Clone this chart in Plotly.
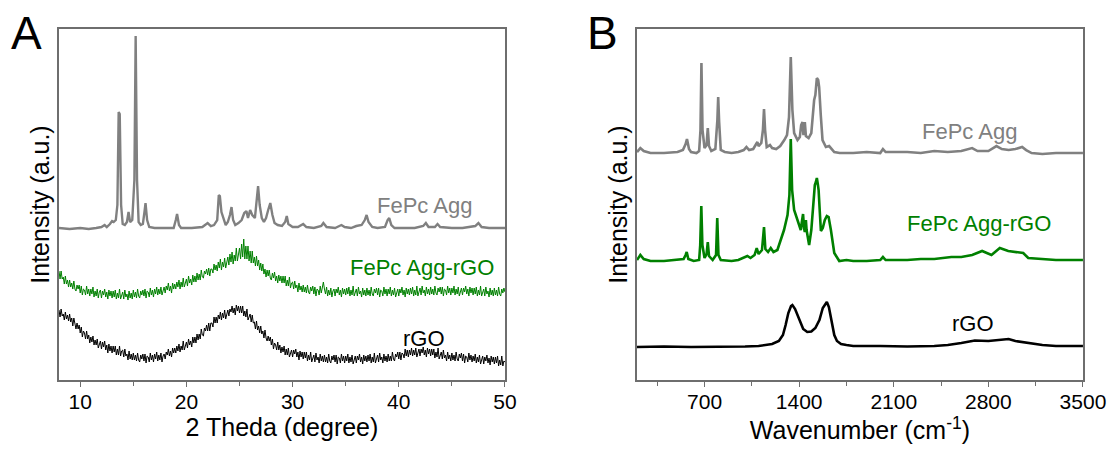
import numpy as np
import plotly.graph_objects as go

# ---------------- Panel A : XRD ----------------
theta_grid = np.round(np.arange(8.0, 50.0001, 0.1), 1)

xrd_agg_rgo = [
    109, 101, 109, 101, 103, 96, 104, 96, 100, 93,
    100, 93, 97, 91, 99, 91, 89, 95, 91, 95,
    87, 94, 85, 91, 90, 85, 94, 86, 91, 84,
    91, 86, 93, 83, 89, 84, 91, 82, 88, 90,
    82, 89, 85, 91, 83, 88, 81, 90, 84, 89,
    82, 89, 83, 90, 81, 87, 82, 91, 81, 86,
    88, 81, 90, 83, 86, 80, 89, 82, 87, 81,
    90, 83, 88, 82, 91, 84, 82, 89, 85, 90,
    84, 91, 82, 89, 88, 83, 92, 85, 90, 83,
    91, 86, 93, 85, 91, 86, 93, 85, 91, 93,
    87, 94, 90, 97, 89, 94, 87, 97, 91, 96,
    91, 98, 93, 100, 91, 98, 93, 102, 93, 98,
    101, 94, 104, 97, 101, 95, 105, 98, 104, 98,
    107, 100, 106, 100, 110, 103, 102, 109, 106, 111,
    105, 112, 104, 111, 111, 107, 116, 110, 115, 109,
    118, 112, 121, 110, 118, 113, 122, 112, 119, 123,
    115, 126, 118, 128, 116, 125, 119, 132, 119, 127,
    132, 121, 136, 123, 141, 121, 134, 121, 134, 119,
    129, 117, 129, 117, 123, 114, 124, 114, 120, 110,
    117, 109, 116, 106, 111, 103, 110, 104, 110, 102,
    100, 107, 102, 108, 99, 104, 97, 105, 99, 104,
    97, 104, 97, 104, 94, 100, 94, 103, 92, 97,
    98, 91, 99, 92, 95, 88, 97, 90, 94, 88,
    95, 88, 93, 87, 95, 88, 86, 93, 89, 94,
    86, 93, 84, 91, 90, 85, 94, 87, 92, 98,
    91, 86, 93, 84, 90, 85, 92, 83, 89, 91,
    84, 91, 87, 93, 85, 90, 83, 92, 86, 91,
    85, 92, 86, 93, 84, 90, 85, 94, 84, 89,
    91, 84, 93, 86, 89, 83, 92, 85, 90, 84,
    92, 85, 90, 84, 93, 86, 84, 91, 87, 92,
    85, 92, 83, 90, 89, 84, 93, 86, 91, 84,
    91, 86, 93, 84, 90, 85, 92, 83, 89, 91,
    84, 91, 87, 93, 85, 90, 83, 92, 86, 91,
    85, 92, 86, 93, 84, 90, 85, 94, 84, 89,
    92, 85, 94, 87, 90, 84, 93, 86, 91, 85,
    93, 86, 91, 85, 94, 87, 85, 92, 88, 93,
    86, 93, 84, 91, 90, 85, 94, 87, 92, 85,
    92, 87, 94, 85, 91, 86, 93, 84, 90, 92,
    85, 92, 88, 94, 86, 91, 84, 93, 87, 92,
    85, 92, 86, 93, 84, 90, 85, 94, 84, 89,
    91, 84, 93, 86, 89, 83, 92, 85, 90, 84,
    92, 85, 90, 84, 93, 86, 84, 91, 87, 92,
    88,
]

xrd_rgo = [
    70, 63, 71, 64, 66, 60, 68, 61, 65, 59,
    66, 58, 62, 54, 62, 54, 51, 57, 51, 55,
    47, 53, 43, 49, 47, 41, 49, 41, 45, 37,
    43, 38, 44, 35, 40, 35, 41, 32, 37, 39,
    31, 38, 33, 39, 30, 35, 27, 36, 29, 34,
    27, 34, 28, 34, 25, 31, 25, 34, 24, 29,
    30, 23, 31, 24, 26, 20, 29, 21, 26, 20,
    27, 20, 25, 19, 27, 20, 18, 25, 21, 26,
    19, 26, 17, 24, 23, 18, 27, 20, 25, 18,
    26, 21, 28, 19, 25, 20, 27, 18, 24, 26,
    21, 28, 25, 31, 24, 29, 23, 32, 27, 32,
    27, 34, 29, 36, 28, 34, 30, 39, 30, 35,
    38, 32, 41, 35, 39, 33, 43, 37, 43, 37,
    46, 40, 46, 41, 51, 45, 44, 52, 49, 55,
    49, 57, 49, 57, 57, 53, 63, 57, 63, 57,
    65, 61, 68, 60, 67, 62, 70, 61, 68, 70,
    64, 71, 68, 74, 67, 72, 65, 75, 69, 74,
    67, 74, 67, 74, 64, 69, 63, 71, 60, 64,
    66, 58, 65, 57, 58, 51, 59, 50, 54, 47,
    54, 46, 49, 42, 50, 42, 39, 44, 39, 43,
    35, 41, 31, 37, 35, 30, 38, 30, 35, 27,
    33, 28, 34, 25, 31, 25, 32, 23, 28, 30,
    23, 30, 26, 31, 23, 28, 20, 29, 23, 28,
    21, 28, 22, 28, 19, 25, 20, 28, 18, 23,
    25, 18, 27, 20, 23, 17, 26, 19, 24, 18,
    25, 18, 23, 17, 26, 19, 17, 24, 20, 25,
    18, 25, 16, 23, 22, 17, 26, 19, 24, 17,
    24, 19, 26, 17, 23, 18, 25, 16, 22, 24,
    17, 24, 20, 26, 18, 23, 16, 25, 19, 24,
    18, 25, 19, 26, 17, 23, 18, 27, 17, 22,
    25, 18, 27, 20, 23, 17, 26, 19, 24, 18,
    26, 19, 24, 19, 28, 21, 19, 26, 23, 28,
    21, 28, 20, 27, 26, 22, 31, 24, 30, 23,
    30, 25, 32, 24, 30, 25, 32, 23, 29, 31,
    24, 31, 27, 33, 25, 30, 23, 32, 26, 31,
    24, 31, 25, 31, 22, 28, 23, 32, 21, 26,
    28, 21, 30, 22, 25, 19, 28, 21, 25, 19,
    27, 20, 25, 19, 28, 21, 19, 26, 22, 27,
    19, 26, 17, 24, 23, 18, 27, 20, 25, 18,
    24, 19, 26, 17, 23, 18, 25, 16, 22, 24,
    16, 23, 19, 25, 17, 22, 15, 24, 18, 23,
    16, 23, 17, 24, 14, 20, 15, 24, 14, 19,
    18,
]

xrd_agg_theta = [
    8.0, 9.0, 10.0, 10.8, 11.5, 12.0, 12.3, 12.5, 12.8, 13.0, 13.15, 13.35, 13.5,
    13.62, 13.72, 13.85, 14.0, 14.2, 14.4, 14.55, 14.7, 14.9, 15.1, 15.22, 15.35,
    15.5, 15.7, 15.9, 16.05, 16.15, 16.3, 16.5, 17.0, 18.0, 18.8, 19.0, 19.12,
    19.3, 19.5, 20.5, 21.5, 22.0, 22.3, 22.6, 22.9, 23.05, 23.15, 23.3, 23.5,
    23.7, 23.9, 24.1, 24.25, 24.4, 24.6, 24.9, 25.2, 25.45, 25.65, 25.8, 26.0,
    26.2, 26.45, 26.6, 26.75, 26.9, 27.1, 27.3, 27.5, 27.7, 27.9, 28.1, 28.3,
    28.6, 29.0, 29.3, 29.45, 29.6, 30.0, 30.5, 31.0, 31.3, 32.0, 32.7, 32.9,
    33.2, 34.0, 34.6, 34.9, 35.5, 36.0, 36.5, 36.8, 36.97, 37.15, 37.5, 38.0,
    38.7, 38.95, 39.1, 39.3, 39.6, 40.5, 41.5, 42.3, 42.55, 42.8, 43.4, 43.65,
    43.9, 45.0, 46.0, 47.2, 47.5, 47.8, 48.5, 50.0,
]
xrd_agg = [
    152, 151, 152, 151, 152, 153, 155, 153, 156, 159, 158, 160, 175,
    268, 266, 175, 156, 155, 158, 168, 158, 160, 200, 344, 200,
    158, 155, 156, 168, 177, 160, 153, 152, 152, 152, 160, 166,
    155, 152, 152, 153, 157, 154, 155, 160, 185, 184, 168, 162,
    155, 158, 165, 173, 160, 155, 157, 160, 167, 169, 162, 170,
    165, 162, 175, 194, 175, 162, 158, 162, 170, 177, 165, 157,
    155, 154, 158, 164, 156, 153, 153, 156, 153, 152, 154, 157,
    153, 152, 155, 153, 152, 154, 155, 160, 165, 158, 153, 152,
    153, 160, 162, 155, 152, 152, 152, 154, 157, 153, 153, 156,
    153, 152, 152, 154, 157, 153, 152, 152,
]

# ---------------- Panel B : Raman ----------------
raman_agg_wn = [
    200, 225, 250, 300, 400, 500, 540, 560, 570, 585, 600, 640, 660, 670, 677, 685,
    700, 715, 724, 733, 750, 780, 795, 801, 808, 820, 850, 900, 950, 990, 1010,
    1030, 1060, 1080, 1091, 1100, 1120, 1132, 1140, 1148, 1160, 1184, 1200, 1230,
    1260, 1290, 1310, 1325, 1338, 1350, 1363, 1388, 1405, 1415, 1425, 1432, 1442,
    1450, 1470, 1490, 1500, 1511, 1520, 1531, 1541, 1548, 1560, 1573, 1598, 1622,
    1660, 1700, 1800, 1900, 2000, 2020, 2040, 2200, 2300, 2400, 2500, 2600, 2680,
    2720, 2800, 2860, 2900, 2950, 3000, 3050, 3080, 3120, 3200, 3300, 3500,
]
raman_agg = [
    228, 232, 229, 227, 227, 228, 230, 236, 241, 231, 228, 227, 229, 250, 317, 250,
    232, 235, 252, 234, 229, 231, 260, 283, 258, 230, 228, 227, 228, 230, 233,
    230, 231, 236, 238, 234, 237, 250, 271, 250, 233, 235, 232, 231,
    234, 240, 245, 263, 323, 270, 247, 240, 243, 255, 258, 245, 258,
    244, 242, 247, 262, 280, 285, 302, 300, 293, 265, 240, 233, 234,
    228, 227, 227, 228, 227, 231, 228, 228, 227, 229, 228, 229, 232,
    229, 229, 234, 231, 230, 231, 233, 230, 227, 226, 227, 227,
]

raman_agg_rgo_wn = [
    200, 225, 250, 300, 400, 500, 545, 560, 568, 580, 620, 660, 668, 676, 684,
    700, 715, 724, 733, 760, 785, 794, 803, 820, 900, 950, 990, 1017, 1040, 1070,
    1086, 1100, 1125, 1140, 1150, 1170, 1190, 1210, 1239, 1260, 1288, 1314, 1328,
    1338, 1348, 1363, 1388, 1412, 1420, 1429, 1436, 1442, 1450, 1455, 1465, 1474,
    1490, 1499, 1510, 1516, 1524, 1531, 1538, 1544, 1552, 1561, 1575, 1590, 1605,
    1618, 1635, 1660, 1697, 1750, 1800, 1900, 2000, 2020, 2040, 2200, 2300, 2400,
    2526, 2600, 2680, 2754, 2823, 2885, 2947, 3000, 3058, 3095, 3200, 3300, 3400, 3500,
]
raman_agg_rgo = [
    120, 125, 121, 119, 119, 120, 121, 125, 128, 121, 119, 120, 135, 174, 135,
    122, 126, 138, 124, 120, 125, 162, 125, 120, 119, 120, 122, 124, 122, 125,
    132, 126, 130, 153, 131, 128, 132, 128, 130, 138, 150, 165, 185,
    241, 190, 170, 160, 150, 158, 166, 152, 148, 160, 150, 142, 135,
    150, 167, 188, 195, 198, 202, 196, 190, 170, 149, 152, 160, 164,
    163, 150, 127, 119, 120, 119, 119, 120, 123, 120, 120, 121, 121,
    123, 123, 125, 129, 125, 132, 129, 128, 127, 122, 121, 120, 120, 120,
]

raman_rgo_wn = [
    200, 400, 600, 800, 1000, 1100, 1200, 1250, 1280, 1300, 1320, 1340, 1350, 1370,
    1400, 1430, 1460, 1490, 1520, 1550, 1575, 1595, 1605, 1620, 1640, 1660, 1680,
    1710, 1750, 1800, 2000, 2200, 2400, 2500, 2600, 2700, 2800, 2900, 2950, 3000,
    3100, 3200, 3300, 3500,
]
raman_rgo = [
    33, 33.5, 33, 33, 33.5, 34, 36, 39, 45, 55, 67, 74, 75, 71,
    60, 51, 48, 48.5, 52, 60, 72, 77, 78, 73, 58, 45, 39,
    36, 35, 34, 34, 33.5, 34, 35, 37, 39.5, 39, 40, 41, 39,
    37, 35, 34, 34,
]

xrd_ticks = [10, 20, 30, 40, 50]
raman_ticks = [700, 1400, 2100, 2800, 3500]

GRAY = "#808080"
GREEN = "#008000"
BLACK = "#000000"
AXC = "#6e6e6e"
FONT = "Liberation Sans, Arial, sans-serif"

fig = go.Figure()

# Panel A
fig.add_trace(go.Scatter(x=xrd_agg_theta, y=xrd_agg, mode="lines",
                         line=dict(color=GRAY, width=2.4), xaxis="x", yaxis="y"))
fig.add_trace(go.Scatter(x=theta_grid, y=xrd_agg_rgo, mode="lines",
                         line=dict(color=GREEN, width=1.0), xaxis="x", yaxis="y"))
fig.add_trace(go.Scatter(x=theta_grid, y=xrd_rgo, mode="lines",
                         line=dict(color=BLACK, width=1.0), xaxis="x", yaxis="y"))

# Panel B
fig.add_trace(go.Scatter(x=raman_agg_wn, y=raman_agg, mode="lines",
                         line=dict(color=GRAY, width=2.6), xaxis="x2", yaxis="y2"))
fig.add_trace(go.Scatter(x=raman_agg_rgo_wn, y=raman_agg_rgo, mode="lines",
                         line=dict(color=GREEN, width=2.6), xaxis="x2", yaxis="y2"))
fig.add_trace(go.Scatter(x=raman_rgo_wn, y=raman_rgo, mode="lines",
                         line=dict(color=BLACK, width=2.6), xaxis="x2", yaxis="y2"))

frame = dict(showline=True, linecolor=AXC, linewidth=1.5, mirror=True,
             showgrid=False, zeroline=False, automargin=False)

xcommon = dict(ticks="outside", ticklen=5, tickwidth=1.2, tickcolor=AXC,
               tickfont=dict(size=21), ticklabelstandoff=-3)
ycommon = dict(domain=[0.163, 0.936], range=[0, 351], showticklabels=False, ticks="")

fig.update_layout(
    width=1113, height=454,
    margin=dict(l=0, r=0, t=0, b=0, autoexpand=False),
    paper_bgcolor="white", plot_bgcolor="white",
    showlegend=False,
    font=dict(family=FONT, color="black", size=21),
    xaxis=dict(domain=[0.053, 0.4537], range=[8, 50], tickvals=xrd_ticks,
               minor=dict(dtick=5, tick0=0, ticks="outside", ticklen=4,
                          tickwidth=1.2, tickcolor=AXC),
               title=dict(text="2 Theda (degree)", font=dict(size=25), standoff=0),
               anchor="y", **xcommon, **frame),
    yaxis=dict(title=dict(text="Intensity (a.u.)", font=dict(size=25), standoff=0),
               anchor="x", **ycommon, **frame),
    xaxis2=dict(domain=[0.5723, 0.973], range=[200, 3500], tickvals=raman_ticks,
                minor=dict(dtick=350, tick0=0, ticks="outside", ticklen=4,
                           tickwidth=1.2, tickcolor=AXC),
                title=dict(text="Wavenumber (cm<sup>-1</sup>)", font=dict(size=25),
                           standoff=0),
                anchor="y2", **xcommon, **frame),
    yaxis2=dict(title=dict(text="Intensity (a.u.)", font=dict(size=25), standoff=0),
                anchor="x2", **ycommon, **frame),
)

ann = [
    dict(text="FePc Agg", x=42.4, y=175, xref="x", yref="y", color=GRAY),
    dict(text="FePc Agg-rGO", x=42.2, y=113, xref="x", yref="y", color=GREEN),
    dict(text="rGO", x=42.35, y=42, xref="x", yref="y", color=BLACK),
    dict(text="FePc Agg", x=2663, y=248.5, xref="x2", yref="y2", color=GRAY),
    dict(text="FePc Agg-rGO", x=2730, y=156.7, xref="x2", yref="y2", color=GREEN),
    dict(text="rGO", x=2689, y=56.3, xref="x2", yref="y2", color=BLACK),
]
for a in ann:
    fig.add_annotation(text=a["text"], x=a["x"], y=a["y"], xref=a["xref"],
                       yref=a["yref"], showarrow=False, xanchor="center",
                       yanchor="middle", font=dict(size=22, color=a["color"], family=FONT))

fig.add_annotation(text="A", x=9 / 1113, y=1 - 33 / 454, xref="paper", yref="paper",
                   showarrow=False, xanchor="left", yanchor="middle",
                   font=dict(size=46, color="black", family=FONT))
fig.add_annotation(text="B", x=585 / 1113, y=1 - 33 / 454, xref="paper", yref="paper",
                   showarrow=False, xanchor="left", yanchor="middle",
                   font=dict(size=46, color="black", family=FONT))

fig.write_html("out.html")
